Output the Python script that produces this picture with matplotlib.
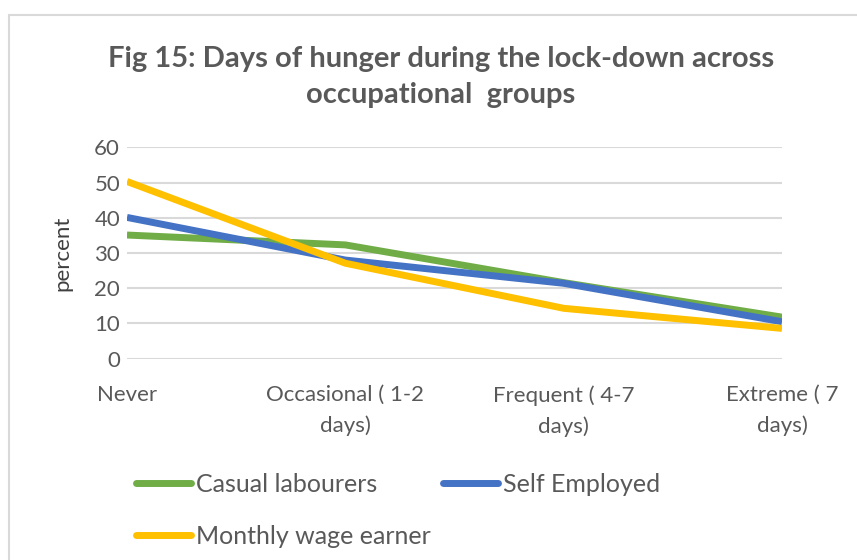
import matplotlib
matplotlib.use("Agg")
import matplotlib.pyplot as plt
from matplotlib.patches import Rectangle

categories = ["Never", "Occasional ( 1-2\ndays)", "Frequent ( 4-7\ndays)", "Extreme ( 7\ndays)"]
casual = [35.1, 32.3, 21.6, 11.8]
self_employed = [40.1, 28.0, 21.4, 10.5]
monthly = [50.3, 27.1, 14.3, 8.6]
series_names = ["Casual labourers", "Self Employed", "Monthly wage earner"]
colors = ["#70AD47", "#4472C4", "#FFC000"]

plt.rcParams['font.family'] = ['Lato', 'DejaVu Sans']
W, H = 857, 560
fig = plt.figure(figsize=(W / 100, H / 100), dpi=100)
fig.patch.set_facecolor("white")

# chart area border
fig.patches.append(Rectangle((9 / W, -0.1), 1.0, (560 - 15) / H + 0.1, transform=fig.transFigure,
                             fill=False, edgecolor="#D9D9D9", linewidth=1.5))

ax = fig.add_axes([127 / W, (560 - 358.7) / H, (782 - 127) / W, (358.7 - 147.3) / H])
x = list(range(len(categories)))
handles = []
for vals, name, c in zip([casual, self_employed, monthly], series_names, colors):
    h, = ax.plot(x, vals, color=c, linewidth=5, solid_capstyle="butt", solid_joinstyle="round", label=name)
    handles.append(h)

ax.set_xlim(0, len(categories) - 1)
ax.set_ylim(0, 60)
ax.set_yticks(range(0, 61, 10))
ax.set_xticks(x)
ax.set_xticklabels(categories, color="#595959", fontsize=16)
for t in ax.get_xticklabels():
    t.set_linespacing(1.65)
ax.tick_params(axis="y", colors="#595959", labelsize=16, length=0, pad=5)
ax.tick_params(axis="x", length=0, pad=19)
for t in ax.get_yticklabels():
    t.set_color("#595959")
ax.grid(axis="y", color="#D9D9D9", linewidth=1.5)
ax.set_axisbelow(True)
for s in ax.spines.values():
    s.set_visible(False)
ax.set_ylabel("percent", fontsize=16, color="#404040", labelpad=16)

fig.text(441 / W, 1 - 77 / H, "Fig 15: Days of hunger during the lock-down across\noccupational  groups",
         ha="center", va="center", fontsize=21, fontweight="bold", color="#595959", linespacing=1.5)

order = [handles[0], handles[2], handles[1]]
leg = fig.legend(order, [h.get_label() for h in order], ncol=2, loc="upper left",
                 bbox_to_anchor=(136 / W, 1 - 473 / H), frameon=False, fontsize=18,
                 handlelength=2.2, handletextpad=0.2, columnspacing=0.5, labelspacing=1.15,
                 borderpad=0, borderaxespad=0)
for t in leg.get_texts():
    t.set_color("#595959")
for lh in leg.get_lines():
    lh.set_linewidth(5)
    lh.set_solid_capstyle("round")

fig.savefig("out.png", dpi=100)
